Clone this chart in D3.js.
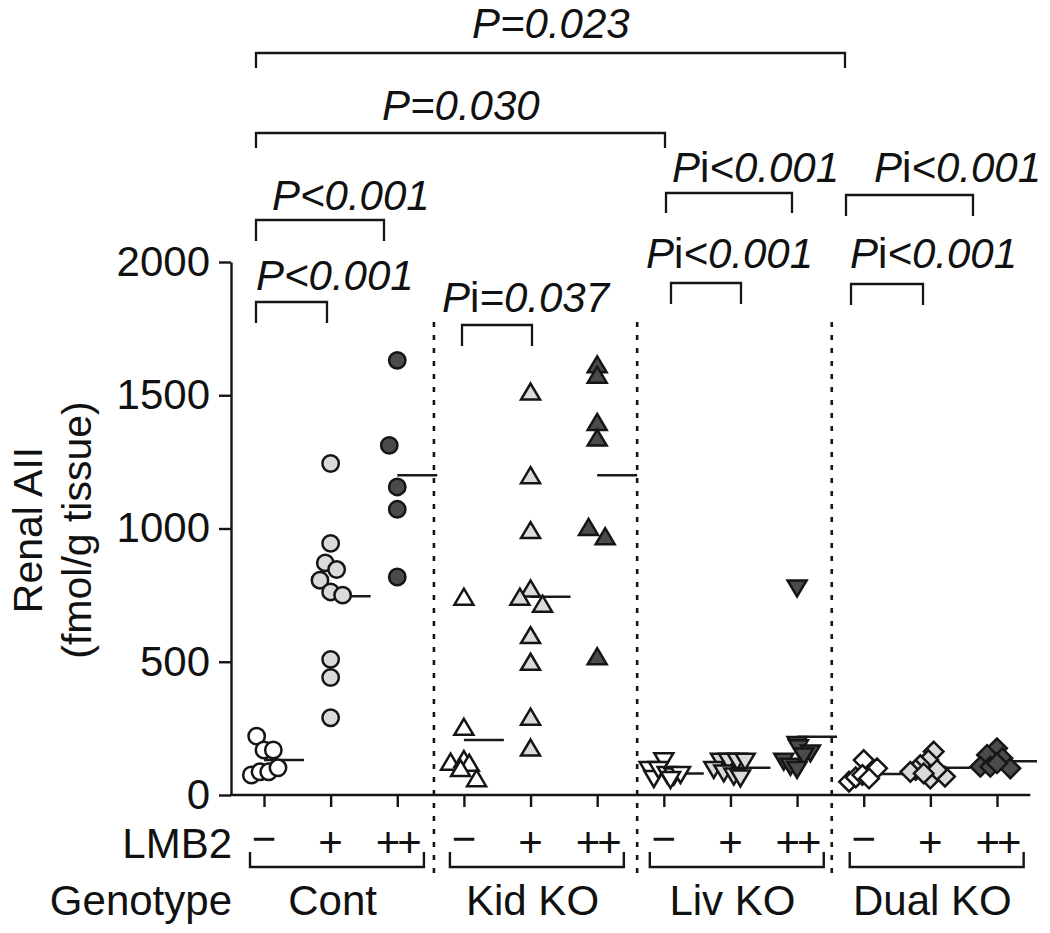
<!DOCTYPE html>
<html><head><meta charset="utf-8">
<script src="https://cdn.jsdelivr.net/npm/d3@7"></script>
<style>
html,body{margin:0;padding:0;background:#fff;}
svg{display:block;}
text{font-family:"Liberation Sans",Arial,Helvetica,sans-serif;fill:#111;}
</style></head>
<body>
<svg id="chart" width="1050" height="933"></svg>
<script>
// ---------- data ----------
const genotypes = ["Cont", "Kid KO", "Liv KO", "Dual KO"];
const doses = ["\u2212", "+", "++"];
const yTicks = [0, 500, 1000, 1500, 2000];

// values (fmol/g tissue) per column, with small horizontal jitter (column units)
const cont_neg = [221, 169, 169, 75, 87, 87, 102];
const cont_neg_dx = [-0.11, 0, 0.14, -0.19, -0.06, 0.07, 0.21];
const cont_pos = [1244, 944, 871, 846, 806, 762, 750, 509, 441, 290];
const cont_pos_dx = [0, 0, -0.08, 0.09, -0.16, 0, 0.18, 0, 0, 0];
const cont_pp = [1631, 1312, 1156, 1072, 818];
const cont_pp_dx = [0, -0.12, 0, 0, 0];

const kid_neg = [744, 256, 125, 135, 121, 101, 63];
const kid_neg_dx = [0, 0, -0.2, 0, 0.08, -0.05, 0.19];
const kid_pos = [1514, 1200, 994, 775, 744, 718, 600, 500, 294, 178];
const kid_pos_dx = [0, 0, 0, 0, -0.16, 0.18, 0, 0, 0, 0];
const kid_pp = [1616, 1577, 1400, 1341, 1006, 971, 521];
const kid_pp_dx = [0, 0, 0, 0, -0.13, 0.12, 0];

const liv_neg = [127, 94, 60, 94, 75, 69, 75, 56];
const liv_neg_dx = [0, -0.22, -0.15, -0.08, 0.05, 0.15, 0.25, 0.1];
const liv_pos = [125, 125, 125, 125, 94, 81, 69, 62];
const liv_pos_dx = [-0.15, -0.03, 0.1, 0.22, -0.25, -0.1, 0.05, 0.15];
const liv_pp = [775, 188, 175, 156, 144, 125, 106, 94];
const liv_pp_dx = [0, 0, 0.02, 0.2, 0.1, -0.2, -0.1, 0];

const dual_neg = [131, 100, 50, 66, 75, 62];
const dual_neg_dx = [0, 0.2, -0.22, -0.12, -0.02, 0.08];
const dual_pos = [163, 131, 112, 94, 87, 62, 69, 94, 81];
const dual_pos_dx = [0.05, -0.03, -0.15, -0.22, -0.3, 0, 0.22, 0.1, -0.1];
const dual_pp = [175, 150, 138, 106, 106, 100, 119];
const dual_pp_dx = [0, -0.15, 0.08, -0.25, -0.1, 0.2, 0];

// mean line per column
const means = [131, 746, 1200, 206, 744, 1200, 81, 102, 219, 79, 102, 127];

// statistical comparisons
const pLabels = ["P=0.023", "P=0.030", "P<0.001", "P<0.001", "Pi=0.037",
                 "Pi<0.001", "Pi<0.001", "Pi<0.001", "Pi<0.001"];

// ---------- layout ----------
const columns = [
  [cont_neg, cont_neg_dx], [cont_pos, cont_pos_dx], [cont_pp, cont_pp_dx],
  [kid_neg, kid_neg_dx], [kid_pos, kid_pos_dx], [kid_pp, kid_pp_dx],
  [liv_neg, liv_neg_dx], [liv_pos, liv_pos_dx], [liv_pp, liv_pp_dx],
  [dual_neg, dual_neg_dx], [dual_pos, dual_pos_dx], [dual_pp, dual_pp_dx]
];
const fills = ["#ffffff", "#dadada", "#4b4b4b"];
const shapes = ["circle", "triUp", "triDown", "diamond"];

// bracket layout (pixels): x1, x2, bar y, drop y, text x, text baseline
const bracketLayout = [
  [256, 845, 53, 68, 472, 38],
  [256, 665, 133, 148, 382, 120],
  [256, 384, 220, 241, 272, 210],
  [256, 327, 302, 323, 256, 290],
  [462, 532, 325, 346, 442, 312],
  [666, 792, 193, 213, 672, 182],
  [671, 741, 283, 304, 646, 268],
  [846, 973, 195, 216, 874, 182],
  [851, 923, 284, 305, 850, 268]
];

const svg = d3.select("#chart");
const x = d3.scaleLinear().domain([0, 11]).range([264, 997]);
const y = d3.scaleLinear().domain([0, 2000]).range([795, 262]);
const ink = "#151515";

// y axis
const yAxis = svg.append("g").attr("transform", "translate(231,0)")
  .call(d3.axisLeft(y).tickValues(yTicks).tickFormat(d3.format("d"))
    .tickSize(12).tickSizeOuter(0).tickPadding(9));
yAxis.select(".domain").attr("stroke", ink).attr("stroke-width", 2.4);
yAxis.selectAll(".tick line").attr("stroke", ink).attr("stroke-width", 2.4);
yAxis.selectAll(".tick text").style("font-size", "42px").attr("fill", "#111")
  .style("font-family", "'Liberation Sans',Arial,sans-serif");

// y title
svg.append("text").attr("transform", "translate(42,530) rotate(-90)")
  .attr("text-anchor", "middle").style("font-size", "41px").text("Renal AII");
svg.append("text").attr("transform", "translate(91,530) rotate(-90)")
  .attr("text-anchor", "middle").style("font-size", "41px").text("(fmol/g tissue)");

// dashed separators
[2.55, 5.6, 8.52].forEach(s => {
  svg.append("line").attr("x1", x(s)).attr("x2", x(s)).attr("y1", 322).attr("y2", 874)
    .attr("stroke", ink).attr("stroke-width", 2.6).attr("stroke-dasharray", "5,8");
});

// x axis ticks + baseline
const xAxis = svg.append("g").attr("transform", "translate(0,795)")
  .call(d3.axisBottom(x).tickValues(d3.range(12)).tickSize(12).tickFormat(""));
xAxis.select(".domain").remove();
xAxis.selectAll(".tick line").attr("stroke", ink).attr("stroke-width", 2.4);
svg.append("line").attr("x1", x(-0.51)).attr("x2", x(11.5)).attr("y1", 795).attr("y2", 795)
  .attr("stroke", ink).attr("stroke-width", 2.6);

// mean lines (beneath points)
svg.append("g").selectAll("line").data(means).join("line")
  .attr("x1", (d, i) => x(i)).attr("x2", (d, i) => x(i + 0.6))
  .attr("y1", d => y(d)).attr("y2", d => y(d))
  .attr("stroke", "#1a1a1a").attr("stroke-width", 2.5);

// symbol paths
function symbolPath(shape) {
  if (shape === "circle") return d3.arc()({innerRadius: 0, outerRadius: 8.2, startAngle: 0, endAngle: 2 * Math.PI});
  if (shape === "triUp") return "M0,-8L9.5,8L-9.5,8Z";
  if (shape === "triDown") return "M0,8L9.5,-8L-9.5,-8Z";
  return "M0,-9.8L9.8,0L0,9.8L-9.8,0Z";
}

const pts = [];
columns.forEach(([vals, dxs], i) => {
  vals.forEach((v, k) => pts.push({col: i, v, dx: dxs[k]}));
});
svg.append("g").selectAll("path").data(pts).join("path")
  .attr("d", d => symbolPath(shapes[Math.floor(d.col / 3)]))
  .attr("transform", d => `translate(${x(d.col + d.dx)},${y(d.v)})`)
  .attr("fill", d => fills[d.col % 3])
  .attr("stroke", ink).attr("stroke-width", 2.5).attr("stroke-linejoin", "miter");

// LMB2 row
svg.append("text").attr("x", 232).attr("y", 858).attr("text-anchor", "end")
  .style("font-size", "42px").text("LMB2");
svg.append("g").selectAll("text").data(d3.range(12)).join("text")
  .attr("x", i => x(i)).attr("y", i => (i % 3 === 0 ? 853 : 857))
  .attr("text-anchor", "middle").style("font-size", "42px")
  .style("letter-spacing", i => (i % 3 === 2 ? "-3px" : null))
  .text(i => doses[i % 3]);

// group brackets
genotypes.forEach((g, gi) => {
  const x1 = x(gi * 3 - 0.21), x2 = x(gi * 3 + 2.4);
  svg.append("path").attr("d", `M${x1},852V867H${x2}V852`)
    .attr("fill", "none").attr("stroke", ink).attr("stroke-width", 2.4);
});
svg.append("text").attr("x", 232).attr("y", 915).attr("text-anchor", "end")
  .style("font-size", "42px").text("Genotype");
svg.append("g").selectAll("text").data(genotypes).join("text")
  .attr("x", (d, gi) => x(gi * 3 + 1) + 2).attr("y", 915)
  .attr("text-anchor", "middle").style("font-size", "42px").text(d => d);

// p-value brackets
pLabels.forEach((lab, k) => {
  const [x1, x2, by, dy, tx, ty] = bracketLayout[k];
  svg.append("path").attr("d", `M${x1},${dy}V${by}H${x2}V${dy}`)
    .attr("fill", "none").attr("stroke", ink).attr("stroke-width", 2.3);
  const t = svg.append("text").attr("x", tx).attr("y", ty).style("font-size", "42px");
  if (lab.startsWith("Pi")) {
    t.append("tspan").style("font-style", "italic").text("P");
    t.append("tspan").text("i");
    t.append("tspan").style("font-style", "italic").text(lab.slice(2));
  } else {
    t.append("tspan").style("font-style", "italic").text(lab);
  }
});
</script>
</body></html>
